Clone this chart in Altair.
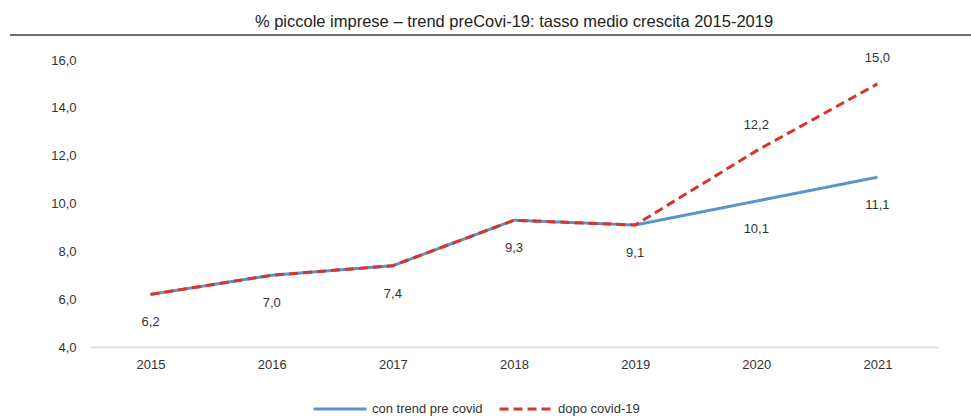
import altair as alt
import pandas as pd

years = ["2015", "2016", "2017", "2018", "2019", "2020", "2021"]
trend_pre_covid = [6.2, 7.0, 7.4, 9.3, 9.1, 10.1, 11.1]
dopo_covid = [6.2, 7.0, 7.4, 9.3, 9.1, 12.2, 15.0]
series_names = ["con trend pre covid", "dopo covid-19"]
title_text = "% piccole imprese \u2013 trend preCovi-19: tasso medio crescita 2015-2019"

rows = []
for name, vals in zip(series_names, [trend_pre_covid, dopo_covid]):
    for y, v in zip(years, vals):
        rows.append({"anno": y, "valore": v, "serie": name})
df = pd.DataFrame(rows)

FONT = "Liberation Sans"
W, H = 848, 287

x_enc = alt.X("anno:O", axis=alt.Axis(title=None, labelAngle=0, ticks=False,
                                        domainColor="#d9d9d9", domainWidth=1.5,
                                        labelPadding=11, labelFontSize=13,
                                        labelColor="#333333", labelFont=FONT),
              scale=alt.Scale(type="point", padding=0.5))
y_scale = alt.Scale(domain=[4, 16], nice=False, zero=False)
y_enc = alt.Y("valore:Q", scale=y_scale,
              axis=alt.Axis(title=None, values=[4, 6, 8, 10, 12, 14, 16], ticks=False,
                            domain=False, grid=False, labelPadding=14, labelFontSize=13,
                            labelColor="#333333", labelFont=FONT,
                            labelExpr="replace(format(datum.value, '.1f'), '.', ',')"))

base = alt.Chart(df)

lines = base.mark_line(strokeWidth=3).encode(
    x=x_enc,
    y=y_enc,
    color=alt.Color("serie:N", scale=alt.Scale(domain=series_names, range=["#5b93cc", "#d9342b"]),
                    legend=alt.Legend(title=None, orient="none", direction="horizontal",
                                      legendX=222, legendY=321, symbolType="stroke",
                                      symbolSize=2800, symbolStrokeWidth=3,
                                      labelFontSize=13, labelFont=FONT, labelColor="#333333",
                                      columnPadding=10, labelOffset=4)),
    strokeDash=alt.StrokeDash("serie:N", scale=alt.Scale(domain=series_names, range=[[1, 0], [9, 5]]),
                              legend=None),
)

lab = base.transform_filter(
    "datum.serie == 'dopo covid-19' || datum.anno == '2020' || datum.anno == '2021'"
).transform_calculate(
    lbl="replace(format(datum.valore, '.1f'), '.', ',')",
    above="datum.serie == 'dopo covid-19' && (datum.anno == '2020' || datum.anno == '2021')",
)

labels_below = lab.transform_filter("!datum.above").mark_text(
    dy=28, fontSize=13, font=FONT, color="#333333"
).encode(x="anno:O", y=alt.Y("valore:Q", scale=y_scale), text="lbl:N")

labels_above = lab.transform_filter("datum.above").mark_text(
    dy=-26, fontSize=13, font=FONT, color="#333333"
).encode(x="anno:O", y=alt.Y("valore:Q", scale=y_scale), text="lbl:N")

rule = alt.Chart(pd.DataFrame({"r": [0]})).mark_rule(color="#6e6e6e", strokeWidth=2, clip=False).encode(
    x=alt.value(-80), x2=alt.value(W + 40), y=alt.value(-25)
)

chart = alt.layer(lines, labels_below, labels_above, rule).properties(
    width=W, height=H,
    title=alt.TitleParams(title_text, fontSize=16.5, font=FONT, fontWeight="normal",
                          color="#222222", anchor="middle", offset=4),
    autosize=alt.AutoSizeParams(type="none"),
    padding={"left": 90, "top": 60, "right": 33, "bottom": 72},
).configure_view(stroke=None)

chart.save("out.html", embed_options={"renderer": "svg", "actions": False})
